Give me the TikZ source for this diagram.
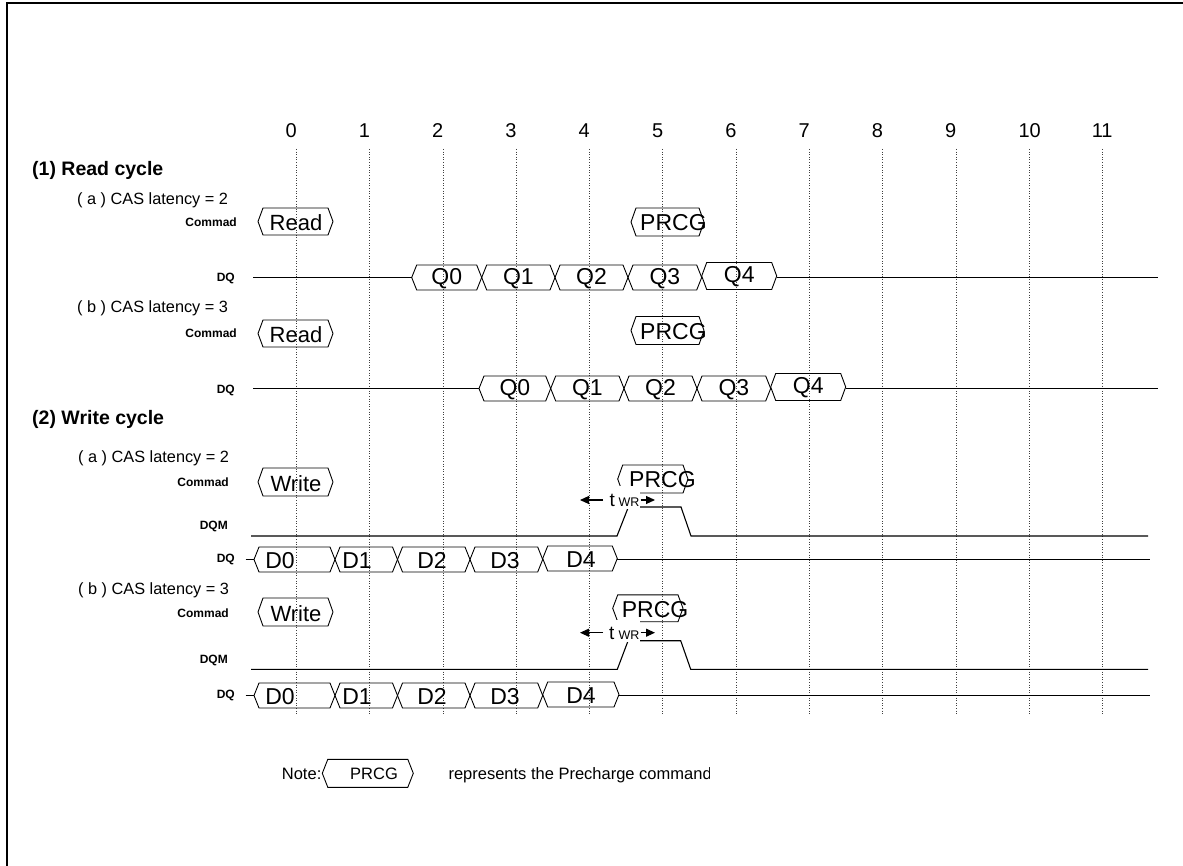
\documentclass[tikz,border=0pt]{standalone}
\usepackage{fontspec}
\setmainfont{Liberation Sans}
\usetikzlibrary{arrows.meta}
\newcommand{\hexb}[6]{% name, x1, x2, yc, halfheight, text
  \draw[hexline] (#2,#4) -- (#2+5,#4-#5) -- (#3-5,#4-#5) -- (#3,#4) -- (#3-5,#4+#5) -- (#2+5,#4+#5) -- cycle;
  \node[datatext] (#1) at ({(#2+#3)/2},#4+1) {#6};
}
\newcommand{\hexd}[7]{% name, x1, x2, yc, halfheight, text, text x
  \draw[hexline] (#2,#4) -- (#2+5,#4-#5) -- (#3-5,#4-#5) -- (#3,#4) -- (#3-5,#4+#5) -- (#2+5,#4+#5) -- cycle;
  \node[datatext] (#1) at (#7,#4+1) {#6};
}
\newcommand{\hexe}[5]{% x1, x2, yc, halfheight, slant (empty hexagon)
  \draw[hexline] (#1,#3) -- (#1+#5,#3-#4) -- (#2-#5,#3-#4) -- (#2,#3) -- (#2-#5,#3+#4) -- (#1+#5,#3+#4) -- cycle;
}
\begin{document}
\begin{tikzpicture}[x=1pt,y=-1pt,
  sig/.style={line width=1.1pt,black},
  hexline/.style={line width=0.9pt,black},
  gridline/.style={line width=0.7pt,black!75,dash pattern=on 1pt off 1.6pt},
  datatext/.style={font=\fontsize{23}{26}\selectfont,inner sep=0pt},
  cmdtext/.style={font=\fontsize{22}{25}\selectfont,inner sep=0pt},
  numtext/.style={font=\fontsize{20}{24}\selectfont,inner sep=0pt,anchor=base west},
  headtext/.style={font=\bfseries\fontsize{19.5}{23}\selectfont,inner sep=0pt,anchor=base west},
  subtext/.style={font=\fontsize{16.3}{19}\selectfont,inner sep=0pt,anchor=base west},
  sigtext/.style={font=\bfseries\fontsize{12}{14}\selectfont,inner sep=0pt,anchor=base east},
  notetext/.style={font=\fontsize{16.5}{19}\selectfont,inner sep=0pt,anchor=base west},
  ttext/.style={font=\fontsize{19}{22}\selectfont,inner sep=0pt,anchor=base west},
  wrtext/.style={font=\fontsize{12.5}{14}\selectfont,inner sep=0pt,anchor=base west},
  arr/.style={line width=1.1pt,-{Triangle[length=9pt,width=8pt]}},
]
\useasboundingbox (0,0) rectangle (1183,866);
% frame
\draw[line width=2pt] (7,866) -- (7,3) -- (1183,3);

% clock grid and numbers
\foreach \k in {0,...,11}{
  \pgfmathsetmacro{\xx}{296.3+73.3*\k}
  \draw[gridline] (\xx,149) -- (\xx,714);
  \node[numtext] (n\k) at (\xx-11,137.5) {\k};
}

% ---------------- (1) Read cycle
\node[headtext] (h1) at (32,176) {(1) Read cycle};
\node[subtext] (r1a) at (77,205) {( a ) CAS latency = 2};
\node[sigtext] (r1acmd) at (237,227) {Commad};
\hexe{258}{333}{221.5}{13.5}{5}
\node[cmdtext] (r1aread) at (296,223) {Read};
\hexe{631}{704}{222}{14}{5}
\node[datatext,anchor=west] (r1aprcg) at (640,223) {PRCG};
\node[sigtext] (r1adq) at (235,282) {DQ};
\draw[sig] (253,277.5) -- (411.7,277.5);
\hexb{r1aq0}{411.7}{481.7}{277.5}{12.5}{Q0}
\hexb{r1aq1}{481.7}{555}{277.5}{12.5}{Q1}
\hexb{r1aq2}{555}{628}{277.5}{12.5}{Q2}
\hexb{r1aq3}{628}{701.7}{277.5}{12.5}{Q3}
\hexb{r1aq4}{701.7}{776.7}{276}{13.5}{Q4}
\draw[sig] (776.7,277.5) -- (1158,277.5);

\node[subtext] (r1b) at (77,313) {( b ) CAS latency = 3};
\node[sigtext] (r1bcmd) at (237,338) {Commad};
\hexe{258}{333}{333.5}{13.5}{5}
\node[cmdtext] (r1bread) at (296,335) {Read};
\hexe{631}{704}{330.5}{14}{5}
\node[datatext,anchor=west] (r1bprcg) at (640,331.5) {PRCG};
\node[sigtext] (r1bdq) at (235,393) {DQ};
\draw[sig] (253,388.5) -- (479,388.5);
\hexb{r1bq0}{479}{550.7}{388.5}{12.5}{Q0}
\hexb{r1bq1}{550.7}{624}{388.5}{12.5}{Q1}
\hexb{r1bq2}{624}{697}{388.5}{12.5}{Q2}
\hexb{r1bq3}{697}{770.7}{388.5}{12.5}{Q3}
\hexb{r1bq4}{770.7}{845.7}{387}{13.5}{Q4}
\draw[sig] (845.7,388.5) -- (1158,388.5);

% ---------------- (2) Write cycle
\node[headtext] (h2) at (32,424) {(2) Write cycle};
\node[subtext] (w2a) at (78,462) {( a ) CAS latency = 2};
\node[sigtext] (w2acmd) at (229,486.5) {Commad};
\hexe{258}{333}{482}{14}{5}
\node[cmdtext] (w2awrite) at (296,484) {Write};
\hexe{617.7}{688}{479}{14}{5}
\node[datatext,anchor=west] (w2aprcg) at (629,480) {PRCG};
\node[sigtext] (w2adqm) at (228,529) {DQM};
\draw[sig] (251,536) -- (617,536) -- (628,508);
\draw[sig] (640,507) -- (681,507) -- (691,536) -- (1148,536);
\fill[white] (604,486) rectangle (640,508.5);
\node[ttext] (w2at) at (609.5,506.5) {t};
\node[wrtext] (w2awr) at (618.3,506.5) {WR};
\draw[arr] (603,500) -- (580,500);
\draw[arr] (640.5,500) -- (655,500);
\node[sigtext] (w2adq) at (235,562) {DQ};
\draw[sig] (245.7,559.5) -- (254,559.5);
\hexd{w2ad0}{254}{335}{559.5}{12.5}{D0}{280}
\hexd{w2ad1}{335}{397.5}{559.5}{12.5}{D1}{357}
\hexd{w2ad2}{397.5}{470}{559.5}{12.5}{D2}{432}
\hexd{w2ad3}{470}{542.7}{559.5}{12.5}{D3}{505}
\hexd{w2ad4}{542.7}{617.3}{558.5}{12.5}{D4}{581}
\draw[sig] (617.3,559.5) -- (1150,559.5);

\node[subtext] (w2b) at (78,594) {( b ) CAS latency = 3};
\node[sigtext] (w2bcmd) at (229,617) {Commad};
\hexe{258}{333}{612}{14}{5}
\node[cmdtext] (w2bwrite) at (296,614) {Write};
\hexe{612.7}{683}{608.3}{13.4}{5}
\node[datatext,anchor=west] (w2bprcg) at (621.7,609.3) {PRCG};
\node[sigtext] (w2bdqm) at (228,663) {DQM};
\draw[sig] (251,669.3) -- (617.3,669.3) -- (628,641);
\draw[sig] (640,640.7) -- (680.7,640.7) -- (690.7,669.3) -- (1148,669.3);
\fill[white] (604,620) rectangle (640,642.2);
\node[ttext] (w2bt) at (609,639.5) {t};
\node[wrtext] (w2bwr) at (618.3,639.5) {WR};
\draw[arr] (603,632.7) -- (580,632.7);
\draw[arr] (640.5,632.7) -- (655,632.7);
\node[sigtext] (w2bdq) at (235,698) {DQ};
\draw[sig] (245.7,695.5) -- (254,695.5);
\hexd{w2bd0}{254}{335}{695.5}{12.5}{D0}{280}
\hexd{w2bd1}{335}{397.5}{695.5}{12.5}{D1}{357}
\hexd{w2bd2}{397.5}{470}{695.5}{12.5}{D2}{432}
\hexd{w2bd3}{470}{542.7}{695.5}{12.5}{D3}{505}
\hexd{w2bd4}{542.7}{619}{694.5}{12.5}{D4}{581}
\draw[sig] (619,695.5) -- (1150,695.5);

% ---------------- note
\node[notetext] (note) at (281.7,779) {Note:};
\hexe{322.3}{413.3}{773.3}{14}{5.5}
\node[notetext,anchor=center] (noteprcg) at (374,773.5) {PRCG};
\begin{scope}
  \clip (440,755) rectangle (709,792);
  \node[notetext] (notetxt) at (448.3,779) {represents the Precharge command};
\end{scope}
\end{tikzpicture}
\end{document}
